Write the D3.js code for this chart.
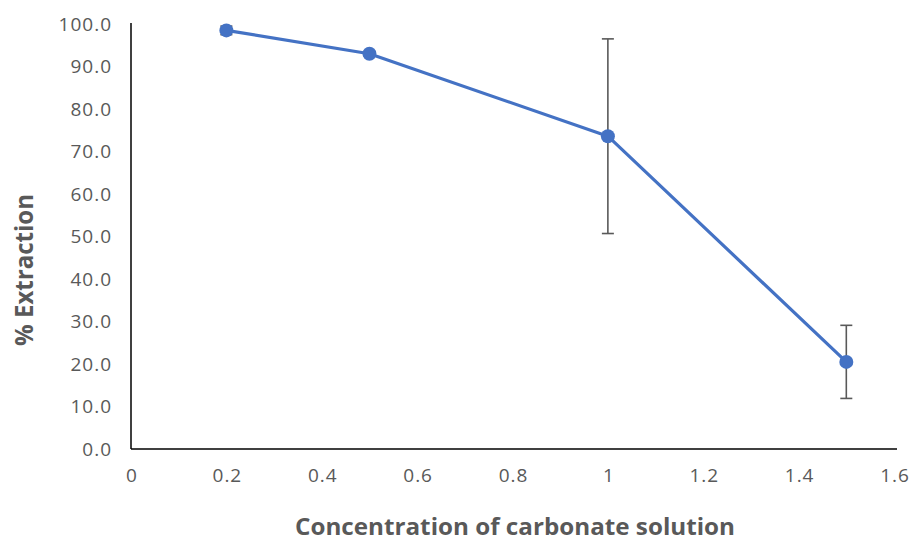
<!DOCTYPE html>
<html>
<head>
<meta charset="utf-8">
<script src="https://cdn.jsdelivr.net/npm/d3@7"></script>
<style>
  html, body { margin: 0; padding: 0; background: #fff; }
  svg text { font-family: "Open Sans", "Liberation Sans", sans-serif; }
</style>
</head>
<body>
<svg id="chart" width="912" height="541"></svg>
<script>
// Extraction vs carbonate concentration, with error bars
const concentrations = [0.2, 0.5, 1.0, 1.5];
const extraction = [98.5, 93.0, 73.6, 20.5];
const errors = [1.0, 0.5, 22.9, 8.6];
const xTicks = [0, 0.2, 0.4, 0.6, 0.8, 1, 1.2, 1.4, 1.6];
const yTicks = [0, 10, 20, 30, 40, 50, 60, 70, 80, 90, 100];

const svg = d3.select("#chart");
const plotLeft = 131, plotTop = 24, plotBottom = 449, axisEnd = 897;

const x = d3.scaleLinear().domain([0, 1.6]).range([plotLeft, 894]);
const y = d3.scaleLinear().domain([0, 100]).range([plotBottom, plotTop]);

// Axes (no tick marks, grey labels)
const xAxis = d3.axisBottom(x).tickValues(xTicks).tickSize(0).tickPadding(20)
  .tickFormat(d => String(d));
const yAxis = d3.axisLeft(y).tickValues(yTicks).tickSize(0).tickPadding(19)
  .tickFormat(d3.format(".1f"));

const gx = svg.append("g").attr("transform", `translate(0,${y(0)})`).call(xAxis);
const gy = svg.append("g").attr("transform", `translate(${x(0)},0)`).call(yAxis);

[gx, gy].forEach(g => {
  g.selectAll("text").attr("fill", "#595959").style("font-size", "19px")
    .style("letter-spacing", "1px");
});
gx.selectAll("text").attr("dx", "0.5px");
gx.select(".domain").attr("stroke", "#000").attr("stroke-width", 1.5)
  .attr("d", `M${x(0)},0H${axisEnd}`);
gy.select(".domain").attr("stroke", "#000").attr("stroke-width", 1.5)
  .attr("d", `M0,${plotTop - 1}V${plotBottom}`);

// Error bars
const cap = 6;
const eb = svg.append("g").attr("stroke", "#595959").attr("stroke-width", 1.6);
concentrations.forEach((c, i) => {
  const hi = y(extraction[i] + errors[i]);
  const lo = y(extraction[i] - errors[i]);
  const cx = x(c);
  eb.append("line").attr("x1", cx).attr("x2", cx).attr("y1", hi).attr("y2", lo);
  eb.append("line").attr("x1", cx - cap).attr("x2", cx + cap).attr("y1", hi).attr("y2", hi);
  eb.append("line").attr("x1", cx - cap).attr("x2", cx + cap).attr("y1", lo).attr("y2", lo);
});

// Series line and markers
const pts = concentrations.map((c, i) => [c, extraction[i]]);
svg.append("path")
  .datum(pts)
  .attr("fill", "none")
  .attr("stroke", "#4472C4")
  .attr("stroke-width", 3.2)
  .attr("stroke-linejoin", "round")
  .attr("d", d3.line().x(d => x(d[0])).y(d => y(d[1])));

svg.append("g").selectAll("circle").data(pts).join("circle")
  .attr("cx", d => x(d[0])).attr("cy", d => y(d[1])).attr("r", 7)
  .attr("fill", "#4472C4");

// Axis titles
svg.append("text")
  .attr("x", 515).attr("y", 535)
  .attr("text-anchor", "middle")
  .attr("fill", "#595959")
  .attr("textLength", 440).attr("lengthAdjust", "spacingAndGlyphs")
  .style("font-size", "23px").style("font-weight", "bold")
  .text("Concentration of carbonate solution");

svg.append("text")
  .attr("transform", "translate(33,270) rotate(-90)")
  .attr("text-anchor", "middle")
  .attr("fill", "#595959")
  .attr("textLength", 152).attr("lengthAdjust", "spacingAndGlyphs")
  .style("font-size", "25px").style("font-weight", "bold")
  .text("% Extraction");
</script>
</body>
</html>
